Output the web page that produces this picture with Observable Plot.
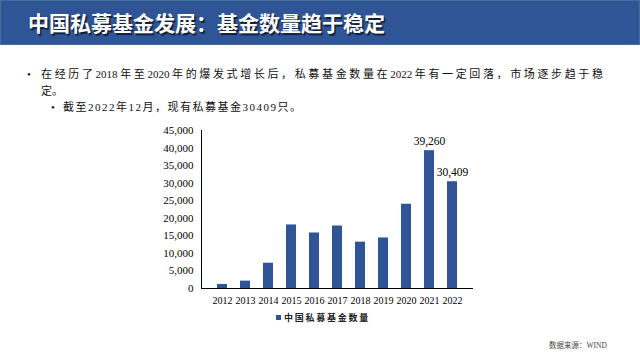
<!DOCTYPE html>
<html>
<head>
<meta charset="utf-8">
<script src="https://cdn.jsdelivr.net/npm/d3@7"></script>
<script src="https://cdn.jsdelivr.net/npm/@observablehq/plot@0.6"></script>
<style>
  html, body { margin: 0; padding: 0; background: #fff; }
  #page { position: relative; width: 640px; height: 360px; overflow: hidden; background: #fff; }
  #titlebar { position: absolute; left: 0; top: 0; width: 638px; height: 43px; background: #2F5597; border: 1px solid #41719C; }
  #title { position: absolute; left: 28px; top: 9px; font-family: "Noto Sans CJK SC", sans-serif; font-weight: 700; font-size: 21px; line-height: 26px; color: #fff; text-shadow: 1.5px 1.5px 1px rgba(0,0,0,0.65); white-space: nowrap; }
  .txt { position: absolute; font-family: "Liberation Serif", "Noto Sans CJK SC", serif; font-size: 11px; line-height: 17px; color: #111; }
  .bul { position: absolute; font-family: "Liberation Serif", serif; font-size: 11px; line-height: 17px; color: #111; }
  #l1 { left: 41px; top: 66px; width: 562px; text-align: justify; text-align-last: justify; white-space: nowrap; }
  #l1b { left: 41px; top: 83px; }
  #l2 { left: 63px; top: 99px; letter-spacing: 1.5px; }
  #chart { position: absolute; left: 140px; top: 120px; }
  #legend { position: absolute; left: 276px; top: 311px; font-family: "Noto Sans CJK SC", sans-serif; font-weight: 700; font-size: 9px; line-height: 14px; letter-spacing: 1.75px; color: #222; white-space: nowrap; }
  #legend .sw { display: inline-block; width: 5px; height: 5px; background: #2F5597; margin-right: 3px; vertical-align: 1px; }
  #source { position: absolute; left: 549px; top: 340px; font-family: "Liberation Serif", "Noto Sans CJK SC", serif; font-size: 7.5px; line-height: 11px; color: #444; white-space: nowrap; }
</style>
</head>
<body>
<div id="page">
  <div id="titlebar"></div>
  <div id="title">中国私募基金发展：基金数量趋于稳定</div>
  <div class="bul" style="left:27px;top:66px;">•</div>
  <div class="txt" id="l1">在经历了2018年至2020年的爆发式增长后，私募基金数量在2022年有一定回落，市场逐步趋于稳</div>
  <div class="txt" id="l1b">定。</div>
  <div class="bul" style="left:51px;top:99px;">•</div>
  <div class="txt" id="l2">截至2022年12月，现有私募基金30409只。</div>
  <div id="chart"></div>
  <div id="legend"><span class="sw"></span>中国私募基金数量</div>
  <div id="source">数据来源：WIND</div>
</div>
<script>
const years = ["2012","2013","2014","2015","2016","2017","2018","2019","2020","2021","2022"];
const counts = [1150, 2100, 7200, 18100, 15800, 17800, 13200, 14400, 24000, 39260, 30409];
const labeledYears = ["2021", "2022"];
const yTicks = [0, 5000, 10000, 15000, 20000, 25000, 30000, 35000, 40000, 45000];

const data = years.map((y, i) => ({year: y, count: counts[i]}));
const fmt = d3.format(",");

const chart = Plot.plot({
  width: 350,
  height: 190,
  marginLeft: 61,
  marginRight: 17,
  marginTop: 10,
  marginBottom: 22,
  style: {fontFamily: "'Liberation Serif', serif", fontSize: "11px", color: "#000", background: "transparent"},
  x: {domain: years, padding: 0.58, label: null},
  y: {domain: [0, 45000], label: null},
  marks: [
    Plot.barY(data, {x: "year", y: "count", fill: "#2F5597"}),
    Plot.axisX({tickSize: 0, tickPadding: 8, fontSize: 10, label: null}),
    Plot.axisY({ticks: yTicks, tickFormat: fmt, tickSize: 0, tickPadding: 8, fontSize: 11, label: null}),
    Plot.frame({anchor: "left", stroke: "#000"}),
    Plot.ruleY([0], {stroke: "#000"}),
    Plot.text(data.filter(d => labeledYears.includes(d.year)), {
      x: "year", y: "count", text: d => fmt(d.count), dy: -9, fontSize: 11.5, fill: "#000"
    })
  ]
});
document.getElementById("chart").appendChild(chart);
</script>
</body>
</html>
